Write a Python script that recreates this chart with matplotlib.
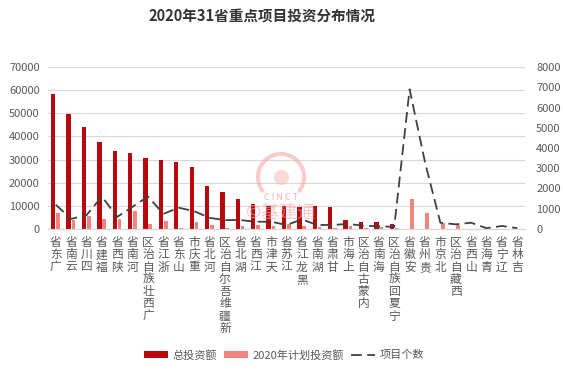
import numpy as np
import matplotlib
matplotlib.use('Agg')
import matplotlib.pyplot as plt
from matplotlib.patches import Arc

plt.rcParams['font.family'] = ['Noto Sans CJK SC', 'DejaVu Sans']

# 省份 (按总投资额排序)
provinces = ['广东省', '云南省', '四川省', '福建省', '陕西省', '河南省', '广西壮族自治区',
             '浙江省', '山东省', '重庆市', '河北省', '新疆维吾尔自治区', '湖北省', '江西省',
             '天津市', '江苏省', '黑龙江省', '湖南省', '甘肃省', '上海市', '内蒙古自治区',
             '海南省', '宁夏回族自治区', '安徽省', '贵州省', '北京市', '西藏自治区', '山西省',
             '青海省', '辽宁省', '吉林省']

# 总投资额 (左轴)
total_invest = [58500, 49800, 44000, 37800, 33600, 32800, 30600, 30000, 28800, 26700,
                18500, 16200, 12800, 10600, 9800, 9800, 9700, 9800, 9500, 4000,
                3100, 3100, 2000, 0, 0, 0, 0, 0, 0, 0, 0]

# 2020年计划投资额 (左轴)
plan_2020 = [6700, 4000, 5700, 4500, 4500, 7900, 2300, 3600, 400, 2900,
             1700, 600, 1500, 1700, 1200, 2000, 1500, 800, 600, 1100,
             300, 700, 400, 12900, 6700, 2400, 1700, 0, 0, 0, 0]

# 项目个数 (右轴)
project_count = [1200, 500, 680, 1600, 600, 1100, 1600, 750, 1050, 880,
                 550, 440, 440, 360, 360, 200, 470, 200, 200, 250,
                 160, 140, 100, 6900, 3300, 310, 230, 310, 40, 150, 40]

left_ticks = [0, 10000, 20000, 30000, 40000, 50000, 60000, 70000]
right_ticks = [0, 1000, 2000, 3000, 4000, 5000, 6000, 7000, 8000]

dark = '#B8090F'
light = '#F0857F'
gray = '#595959'

fig = plt.figure(figsize=(5.63, 3.76), dpi=100)
ax = fig.add_axes([48 / 563, 1 - 229 / 376, 477 / 563, 162 / 376])
ax2 = ax.twinx()

x = np.arange(len(provinces))
ax.bar(x - 0.16, total_invest, width=0.28, color=dark, zorder=3, label='总投资额')
ax.bar(x + 0.15, plan_2020, width=0.24, color=light, zorder=3, label='2020年计划投资额')
ax2.plot(x, project_count, color='#404040', lw=1.3, dashes=(6, 3), label='项目个数')

ax.set_xlim(-0.5, len(provinces) - 0.5)
ax.set_ylim(0, 70000)
ax2.set_ylim(0, 8000)
ax.set_yticks(left_ticks)
ax2.set_yticks(right_ticks)
ax.grid(axis='y', color='#D9D9D9', lw=0.8, zorder=0)
ax.set_axisbelow(True)

for a in (ax, ax2):
    for s in ('top', 'left', 'right'):
        a.spines[s].set_visible(False)
    a.spines['bottom'].set_color('#D9D9D9')
    a.tick_params(length=0, labelsize=8, labelcolor=gray)
ax.tick_params(axis='y', pad=6)
ax2.tick_params(axis='y', pad=8)

# 竖排标签, 字从下往上读
ax.set_xticks(x)
ax.set_xticklabels(['\n'.join(reversed(p)) for p in provinces], va='top',
                   linespacing=0.93, fontsize=8.5, color=gray)
ax.tick_params(axis='x', pad=5)

fig.text(262 / 563, 1 - 17 / 376, '2020年31省重点项目投资分布情况', ha='center',
         va='center', fontsize=10.5, fontweight='bold', color='#333333')

# 水印
wm = fig.add_axes([251 / 563, 1 - 207 / 376, 60 / 563, 60 / 376])
wm.set_xlim(-30, 30)
wm.set_ylim(-30, 30)
wm.axis('off')
wm.add_patch(Arc((0, 0), 46, 46, theta1=-40, theta2=220, lw=3, color='#F3A3A3', alpha=0.55))
wm.scatter([0], [0], s=120, color='#F7B5B5', alpha=0.5, lw=0)
fig.text(281 / 563, 1 - 197 / 376, 'C I N C T', ha='center', va='center',
         fontsize=6.5, color='#E9A0A0', alpha=0.8)
fig.text(281 / 563, 1 - 213 / 376, '©基建通', ha='center', va='center',
         fontsize=13, color='#F2A5A5', alpha=0.6)

h1, l1 = ax.get_legend_handles_labels()
h2, l2 = ax2.get_legend_handles_labels()
fig.legend(h1 + h2, l1 + l2, loc='center', bbox_to_anchor=(284 / 563, 1 - 355 / 376),
           ncol=3, frameon=False, fontsize=8, labelcolor=gray, handlelength=2.2,
           handleheight=0.6, columnspacing=0.6, handletextpad=0.4)

fig.savefig('out.png', dpi=100)
